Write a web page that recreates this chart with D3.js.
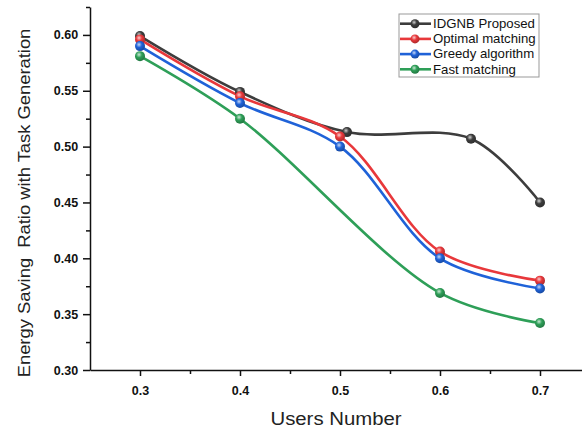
<!DOCTYPE html>
<html>
<head>
<meta charset="utf-8">
<script src="https://cdn.jsdelivr.net/npm/d3@7"></script>
<style>
body { margin: 0; background: #fff; }
svg { display: block; font-family: "Liberation Sans", Arial, sans-serif; }
</style>
</head>
<body>
<div id="chart"></div>
<script>
// ---- data ----
const seriesNames = ['IDGNB Proposed', 'Optimal matching', 'Greedy algorithm', 'Fast matching'];
const seriesColors = ['#3d3d3d', '#e8383b', '#1f62d8', '#2e9f58'];

const idgnbX = [0.3, 0.4, 0.507, 0.631, 0.7];
const idgnbY = [0.599, 0.549, 0.513, 0.507, 0.450];

const optimalX = [0.3, 0.4, 0.5, 0.6, 0.7];
const optimalY = [0.596, 0.545, 0.509, 0.406, 0.380];

const greedyX = [0.3, 0.4, 0.5, 0.6, 0.7];
const greedyY = [0.590, 0.539, 0.500, 0.400, 0.373];

const fastX = [0.3, 0.4, 0.6, 0.7];
const fastY = [0.581, 0.525, 0.369, 0.342];

const xTicks = [0.3, 0.4, 0.5, 0.6, 0.7];
const yTicks = [0.30, 0.35, 0.40, 0.45, 0.50, 0.55, 0.60];

const series = [
  {name: seriesNames[0], color: seriesColors[0], pts: idgnbX.map((x, i) => [x, idgnbY[i]])},
  {name: seriesNames[1], color: seriesColors[1], pts: optimalX.map((x, i) => [x, optimalY[i]])},
  {name: seriesNames[2], color: seriesColors[2], pts: greedyX.map((x, i) => [x, greedyY[i]])},
  {name: seriesNames[3], color: seriesColors[3], pts: fastX.map((x, i) => [x, fastY[i]])}
];

// ---- layout ----
const width = 582, height = 428;
const margin = {left: 90, top: 7, bottom: 58};
const plotH = height - margin.top - margin.bottom; // axis at y=370

const svg = d3.select('#chart').append('svg')
  .attr('width', width)
  .attr('height', height);

const x = d3.scaleLinear().domain([0.25, 0.75]).range([margin.left, margin.left + 500]);
const y = d3.scaleLinear().domain([0.3, 0.625]).range([margin.top + plotH, margin.top]);

// sphere gradients for markers
const defs = svg.append('defs');
series.forEach((s, i) => {
  const g = defs.append('radialGradient')
    .attr('id', 'ball' + i)
    .attr('cx', '40%').attr('cy', '35%').attr('r', '65%');
  g.append('stop').attr('offset', '0%').attr('stop-color', d3.interpolateRgb(s.color, '#fff')(0.75));
  g.append('stop').attr('offset', '45%').attr('stop-color', s.color);
  g.append('stop').attr('offset', '100%').attr('stop-color', d3.color(s.color).darker(0.8));
});

// ---- axes ----
const xAxis = svg.append('g')
  .attr('transform', `translate(0,${y(0.3)})`)
  .call(d3.axisBottom(x).tickValues(xTicks).tickFormat(d3.format('.1f')).tickSize(6).tickSizeOuter(0));

svg.append('g')
  .attr('transform', `translate(0,${y(0.3)})`)
  .call(d3.axisBottom(x).tickValues([0.35, 0.45, 0.55, 0.65]).tickFormat('').tickSize(4).tickSizeOuter(0))
  .call(g => g.select('.domain').remove());

const yAxis = svg.append('g')
  .attr('transform', `translate(${margin.left},0)`)
  .call(d3.axisLeft(y).tickValues(yTicks).tickFormat(d3.format('.2f')).tickSize(7).tickSizeOuter(0));

svg.append('g')
  .attr('transform', `translate(${margin.left},0)`)
  .call(d3.axisLeft(y).tickValues([0.325, 0.375, 0.425, 0.475, 0.525, 0.575, 0.625]).tickFormat('').tickSize(4).tickSizeOuter(0))
  .call(g => g.select('.domain').remove());

svg.selectAll('.domain, .tick line').attr('stroke', '#111').attr('stroke-width', 1.5);

xAxis.selectAll('text')
  .attr('dy', '1.25em')
  .style('font-size', '12.5px').style('font-weight', 'bold').attr('fill', '#111');
yAxis.selectAll('text')
  .attr('dx', '-0.15em')
  .style('font-size', '12.5px').style('font-weight', 'bold').attr('fill', '#111');

// axis titles, slightly stretched like the source
svg.append('text')
  .attr('transform', 'translate(336,425) scale(1.1,1)')
  .attr('text-anchor', 'middle')
  .style('font-size', '18.5px').attr('fill', '#222')
  .text('Users Number');

svg.append('text')
  .attr('transform', 'translate(30,203) rotate(-90) scale(1.08,1)')
  .attr('text-anchor', 'middle')
  .style('font-size', '17px').attr('fill', '#222')
  .attr('xml:space', 'preserve')
  .text('Energy Saving  Ratio with Task Generation');

// ---- lines ----
const line = d3.line()
  .x(d => x(d[0]))
  .y(d => y(d[1]))
  .curve(d3.curveCatmullRom.alpha(0.5));

series.forEach((s, i) => {
  svg.append('path')
    .datum(s.pts)
    .attr('d', line)
    .attr('fill', 'none')
    .attr('stroke', s.color)
    .attr('stroke-width', 2.6);
});

series.forEach((s, i) => {
  svg.append('g').selectAll('circle')
    .data(s.pts)
    .join('circle')
    .attr('cx', d => x(d[0]))
    .attr('cy', d => y(d[1]))
    .attr('r', 5)
    .attr('fill', `url(#ball${i})`);
});

// ---- legend ----
const legend = svg.append('g').attr('transform', 'translate(399,14)');
legend.append('rect')
  .attr('width', 140).attr('height', 63)
  .attr('fill', '#fff').attr('stroke', '#999').attr('stroke-width', 1);

series.forEach((s, i) => {
  const row = legend.append('g').attr('transform', `translate(0,${9.7 + i * 15.2})`);
  row.append('line')
    .attr('x1', 1).attr('x2', 32)
    .attr('stroke', s.color).attr('stroke-width', 2.6);
  row.append('circle')
    .attr('cx', 16).attr('r', 4.5)
    .attr('fill', `url(#ball${i})`);
  row.append('text')
    .attr('transform', 'translate(34,0) scale(1.1,1)')
    .attr('dy', '0.36em')
    .style('font-size', '12px').attr('fill', '#111')
    .text(s.name);
});
</script>
</body>
</html>
